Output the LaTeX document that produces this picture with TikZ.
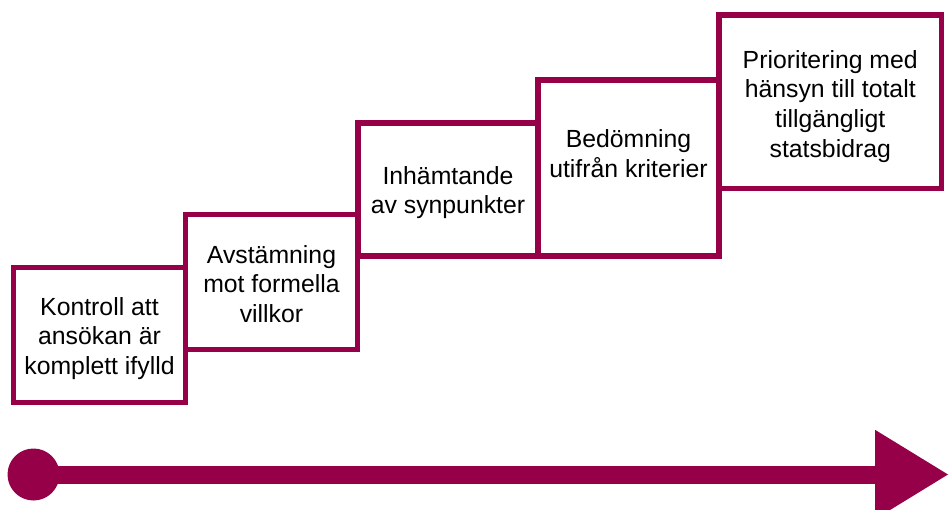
\documentclass[tikz,border=0pt]{standalone}
\usepackage{fontspec}
\setmainfont{Liberation Sans}
\usetikzlibrary{arrows.meta}
\definecolor{mag}{RGB}{150,0,72}
\tikzset{
  stepbox/.style={draw=mag, line width=4.1pt, fill=white, inner sep=0pt},
  steptext/.style={align=center, inner sep=0pt, font=\fontsize{18.6}{22.3}\selectfont},
}
\begin{document}
\begin{tikzpicture}[x=0.75pt,y=-0.75pt]
\useasboundingbox (0,0) rectangle (950,510);
% boxes (centre lines)
\node[stepbox, minimum width=172*0.75pt, minimum height=135*0.75pt] (b1) at (99.5,335) {};
\node[stepbox, minimum width=172*0.75pt, minimum height=135.5*0.75pt] (b2) at (271.5,282) {};
\node[stepbox, minimum width=180*0.75pt, minimum height=133*0.75pt] (b3) at (448,189.5) {};
\node[stepbox, minimum width=181*0.75pt, minimum height=176*0.75pt] (b4) at (628.5,168) {};
\node[stepbox, minimum width=222.5*0.75pt, minimum height=173.5*0.75pt] (b5) at (830.25,101.75) {};
% texts
\node[steptext, yshift=-2.5pt] (t1) at (b1.center) {Kontroll att\\ansökan är\\komplett ifylld};
\node[steptext, yshift=-1.5pt] (t2) at (b2.center) {Avstämning\\mot formella\\villkor};
\node[steptext, yshift=-2.3pt] (t3) at (b3.center) {Inhämtande\\av synpunkter};
\node[steptext, yshift=11pt] (t4) at (b4.center) {Bedömning\\utifrån kriterier};
\node[steptext, yshift=-3.5pt] (t5) at (b5.center) {Prioritering med\\hänsyn till totalt\\tillgängligt\\statsbidrag};
% timeline arrow
\node[circle, fill=mag, inner sep=0pt, minimum size=39pt] (start) at (33.5,474.5) {};
\coordinate (tip) at (949,474.5);
\draw[mag, line width=13.5pt, -{Triangle[length=55.5pt, width=63pt]}] (start.center) -- (tip);
\end{tikzpicture}
\end{document}
